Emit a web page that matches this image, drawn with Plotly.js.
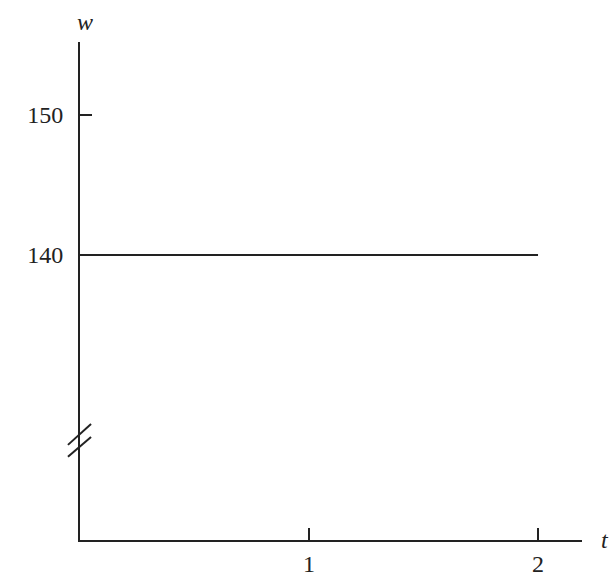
<!DOCTYPE html>
<html>
<head>
<meta charset="utf-8">
<script src="https://cdn.plot.ly/plotly-3.0.1.min.js"></script>
<style>
  html, body { margin: 0; padding: 0; background: #fff; }
  #chart { width: 612px; height: 580px; }
</style>
</head>
<body>
<div id="chart"></div>
<script>
// weight stays flat at 140 over the two time units
const tValues = [0, 2];
const wValues = [140, 140];
const xTicks = [1, 2];
const yTicks = [140, 150];

const ink = '#222';
const serif = 'Liberation Serif, Times New Roman, serif';

var trace = {
    x: tValues,
    y: wValues,
    type: 'scatter',
    mode: 'lines',
    line: { color: ink, width: 2 },
    hoverinfo: 'skip'
};

// little "//" marks on the w axis showing it doesn't start at 0
function slash(y0, y1) {
    return {
        type: 'line', xref: 'paper', yref: 'paper',
        x0: -0.024, x1: 0.022, y0: y0, y1: y1,
        line: { color: ink, width: 2 }
    };
}

var layout = {
    width: 612,
    height: 580,
    margin: { l: 80, r: 30, t: 42, b: 40 },
    paper_bgcolor: '#fff',
    plot_bgcolor: '#fff',
    showlegend: false,
    font: { family: serif, size: 24, color: ink },
    xaxis: {
        range: [0, 2.192],
        showgrid: false,
        zeroline: false,
        showline: true,
        linecolor: ink,
        linewidth: 2,
        ticks: 'inside',
        ticklen: 12,
        tickwidth: 2,
        tickcolor: ink,
        tickvals: xTicks,
        ticktext: xTicks.map(String),
        ticklabelstandoff: 1
    },
    yaxis: {
        range: [119.64, 155.21],
        showgrid: false,
        zeroline: false,
        showline: true,
        linecolor: ink,
        linewidth: 2,
        ticks: 'inside',
        ticklen: 12,
        tickwidth: 2,
        tickcolor: ink,
        tickvals: yTicks,
        ticktext: yTicks.map(String),
        ticklabelstandoff: 10
    },
    shapes: [slash(0.191, 0.233), slash(0.167, 0.207)],
    annotations: [
        { text: '<i>w</i>', xref: 'paper', yref: 'paper', x: 0.01, y: 1.04,
          xanchor: 'center', yanchor: 'middle', showarrow: false,
          font: { family: serif, size: 24, color: ink } },
        { text: '<i>t</i>', xref: 'paper', yref: 'paper', x: 1.045, y: 0,
          xanchor: 'center', yanchor: 'middle', showarrow: false,
          font: { family: serif, size: 24, color: ink } }
    ]
};

Plotly.newPlot('chart', [trace], layout, { displayModeBar: false, staticPlot: true });
</script>
</body>
</html>
